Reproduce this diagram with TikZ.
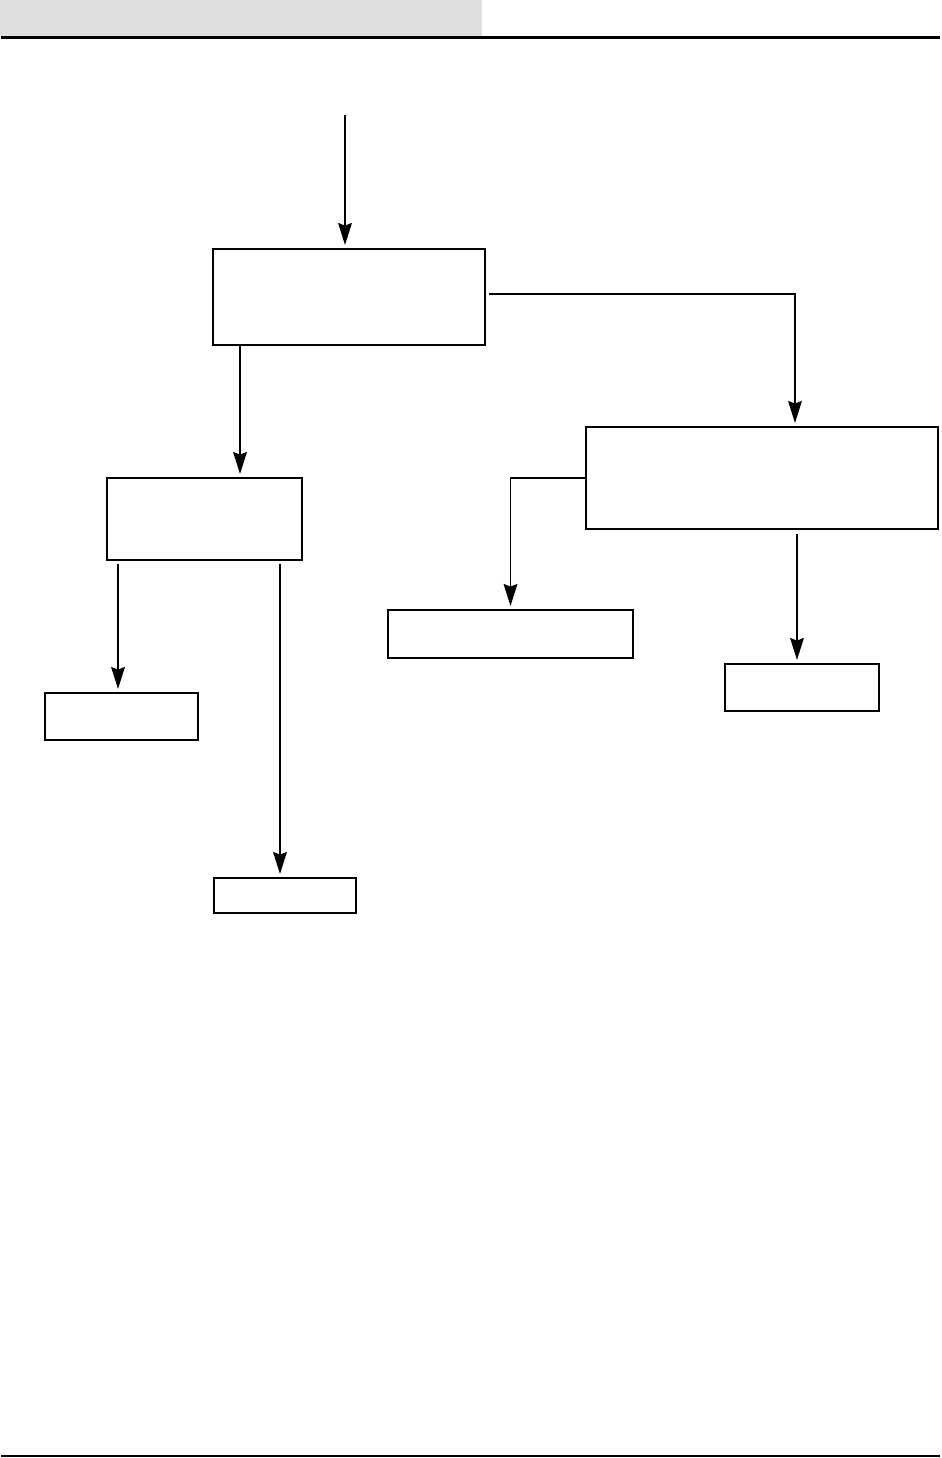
\documentclass[tikz,border=0pt]{standalone}
\usepackage{tikz}
\usetikzlibrary{positioning,arrows.meta,calc}
\usepackage{xcolor}
\definecolor{headgray}{RGB}{223,223,223}

\begin{document}
\begin{tikzpicture}[
  x=0.02cm, y=-0.02cm,
  >={Stealth[length=12.5pt, width=7.8pt, inset=1.5pt]},
  box/.style={draw, line width=1pt, inner sep=0pt},
  arr/.style={->, line width=1.1pt, shorten >=1.8pt},
]
  \useasboundingbox (0,0) rectangle (942,1458);

  % Page header and rules
  \fill[headgray] (0,0) rectangle (482,36);
  \draw[line width=1.5pt] (1,37.5) -- (940,37.5);
  \draw[line width=1.3pt] (1,1456) -- (940,1456);

  % Boxes
  \node[box, minimum width=5.44cm, minimum height=1.92cm] (boxA) at (349,297) {};
  \node[box, minimum width=7.04cm, minimum height=2.04cm] (boxB) at (762,478) {};
  \node[box, minimum width=3.9cm, minimum height=1.64cm] (boxC) at (204.5,519) {};
  \node[box, minimum width=3.06cm, minimum height=0.94cm] (boxD) at (121.5,716.5) {};
  \node[box, minimum width=2.84cm, minimum height=0.7cm] (boxE) at (285,895.5) {};
  \node[box, minimum width=4.9cm, minimum height=0.96cm] (boxF) at (510.5,634) {};
  \node[box, minimum width=3.08cm, minimum height=0.94cm] (boxG) at (802,687.5) {};

  % Free end of the incoming arrow
  \coordinate (start) at (345,115);

  % Connectors
  \draw[arr] (start) -- (start |- boxA.north);
  \draw[arr, shorten <=2pt] ([yshift=0.06cm]boxA.east) -| ([xshift=0.66cm]boxB.north);
  \draw[arr] ([xshift=-2.18cm]boxA.south) -- ([xshift=-2.18cm]boxA.south |- boxC.north);
  \draw[arr, shorten <=2pt] ([xshift=-1.73cm]boxC.south) -- ([xshift=-1.73cm]boxC.south |- boxD.north);
  \draw[arr, shorten <=2pt] ([xshift=1.51cm]boxC.south) -- ([xshift=1.51cm]boxC.south |- boxE.north);
  \draw[arr] (boxB.west) -| (boxF.north);
  \draw[arr, shorten <=2.2pt] ([xshift=0.7cm]boxB.south) -- ([xshift=0.7cm]boxB.south |- boxG.north);
\end{tikzpicture}
\end{document}
